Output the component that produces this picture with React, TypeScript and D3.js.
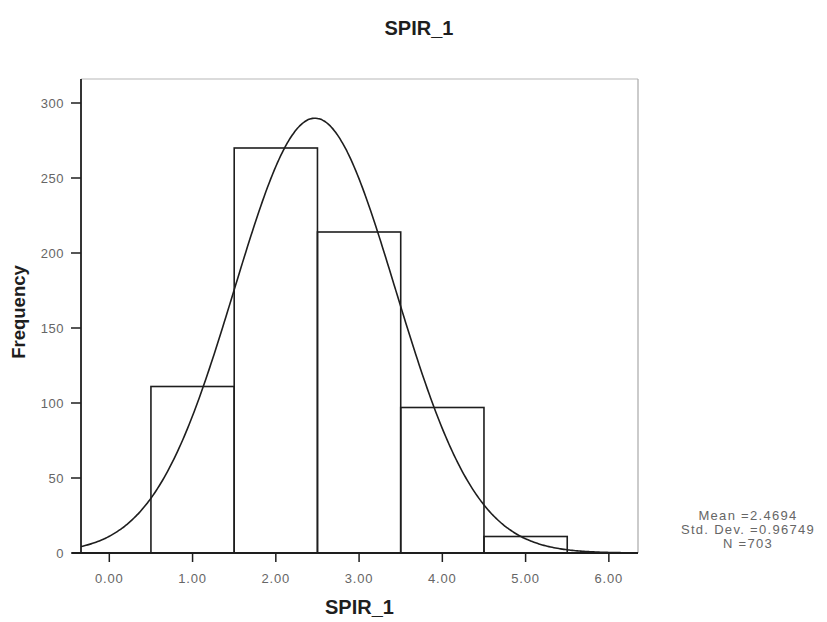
import React from "react";
import * as d3 from "d3";

const binCenters = [1, 2, 3, 4, 5];
const frequencies = [111, 270, 214, 97, 11];
const xTicks = [0, 1, 2, 3, 4, 5, 6];
const yTicks = [0, 50, 100, 150, 200, 250, 300];
const meanValue = 2.4694;
const stdDev = 0.96749;
const nCount = 703;
const binWidth = 1;
const statsLines = ["Mean =2.4694", "Std. Dev. =0.96749", "N =703"];

const W = 827;
const H = 622;
const left = 81;
const right = 638;
const top = 79;
const bottom = 553;

export default function App() {
  const x = d3.scaleLinear().domain([-0.34, 6.35]).range([left, right]);
  const y = d3.scaleLinear().domain([0, 316]).range([bottom, top]);

  const k = (nCount * binWidth) / (stdDev * Math.sqrt(2 * Math.PI));
  const curvePts = d3.range(-0.34, 6.3501, 0.02).map((v) => [
    v,
    k * Math.exp(-0.5 * ((v - meanValue) / stdDev) ** 2),
  ]);
  const line = d3
    .line<number[]>()
    .x((d) => x(d[0]))
    .y((d) => y(d[1]))
    .curve(d3.curveBasis);

  const font = "'Liberation Sans', Arial, sans-serif";
  const ink = "#1e1e1e";

  return (
    <svg
      width={W}
      height={H}
      style={{ position: "absolute", left: 0, top: 0, background: "#fff" }}
    >
      <text
        x={419}
        y={35}
        textAnchor="middle"
        fontFamily={font}
        fontWeight="bold"
        fontSize={20}
        fill={ink}
      >
        SPIR_1
      </text>

      {/* frame */}
      <line x1={left} x2={right} y1={top} y2={top} stroke="#b8b8b8" strokeWidth={1.2} />
      <line x1={right} x2={right} y1={top} y2={bottom} stroke="#a8a8a8" strokeWidth={1.2} />

      {/* bars */}
      {binCenters.map((c, i) => (
        <rect
          key={c}
          x={x(c - binWidth / 2)}
          y={y(frequencies[i])}
          width={x(c + binWidth / 2) - x(c - binWidth / 2)}
          height={bottom - y(frequencies[i])}
          fill="none"
          stroke={ink}
          strokeWidth={1.6}
        />
      ))}

      <defs>
        <clipPath id="plotclip">
          <rect x={left} y={top} width={right - left} height={bottom - top} />
        </clipPath>
      </defs>
      <path
        d={line(curvePts) || ""}
        fill="none"
        stroke={ink}
        strokeWidth={1.6}
        clipPath="url(#plotclip)"
      />

      {/* axes */}
      <line x1={left} x2={left} y1={top} y2={bottom} stroke={ink} strokeWidth={1.8} />
      <line x1={left - 9} x2={right} y1={bottom} y2={bottom} stroke={ink} strokeWidth={1.8} />

      {yTicks.map((t) => (
        <g key={t}>
          <line x1={left - 10} x2={left} y1={y(t)} y2={y(t)} stroke={ink} strokeWidth={1.5} />
          <text
            x={left - 17}
            y={y(t)}
            dy="0.35em"
            textAnchor="end"
            fontFamily={font}
            fontSize={13}
            letterSpacing={0.5}
            fill="#666"
          >
            {t}
          </text>
        </g>
      ))}

      {xTicks.map((t) => (
        <g key={t}>
          <line x1={x(t)} x2={x(t)} y1={bottom} y2={bottom + 9} stroke={ink} strokeWidth={1.5} />
          <text
            x={x(t)}
            y={578}
            dy="0.35em"
            textAnchor="middle"
            fontFamily={font}
            fontSize={13}
            letterSpacing={0.8}
            fill="#666"
          >
            {d3.format(".2f")(t)}
          </text>
        </g>
      ))}

      <text
        x={(left + right) / 2}
        y={614}
        textAnchor="middle"
        fontFamily={font}
        fontWeight="bold"
        fontSize={20}
        fill={ink}
      >
        SPIR_1
      </text>

      <text
        transform={`translate(25, ${(top + bottom) / 2 - 4}) rotate(-90)`}
        textAnchor="middle"
        fontFamily={font}
        fontWeight="bold"
        fontSize={18.5}
        fill={ink}
      >
        Frequency
      </text>

      {statsLines.map((s, i) => (
        <text
          key={s}
          x={748}
          y={520 + i * 14}
          textAnchor="middle"
          fontFamily={font}
          fontSize={13}
          letterSpacing={1.3}
          fill="#666"
        >
          {s}
        </text>
      ))}
    </svg>
  );
}
